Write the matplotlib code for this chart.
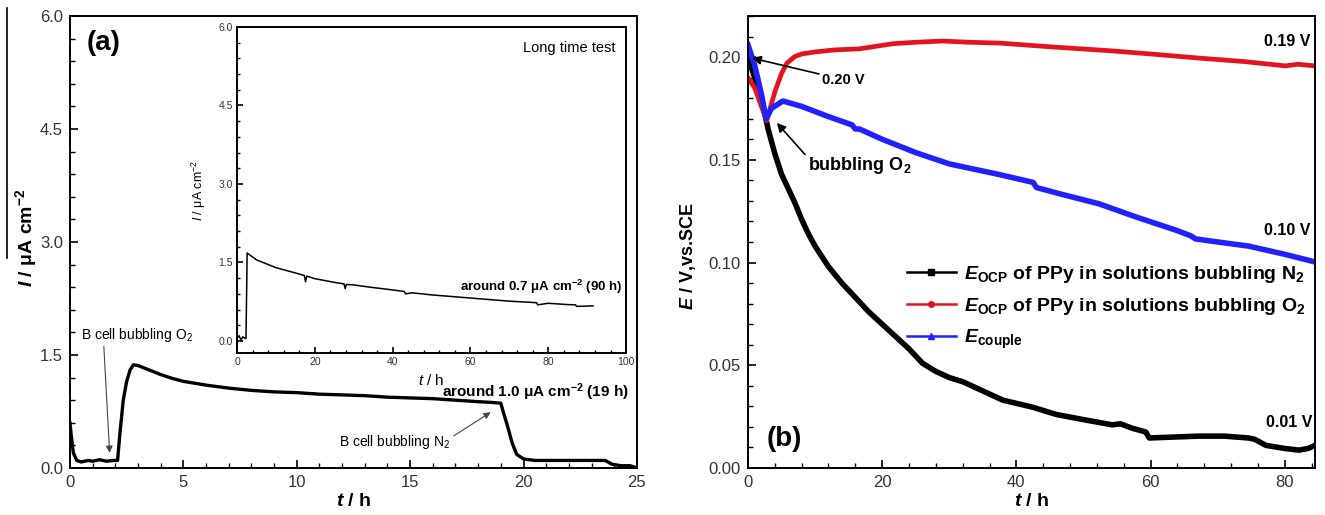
import numpy as np
import matplotlib.pyplot as plt
from matplotlib.lines import Line2D
from matplotlib.ticker import MultipleLocator

plt.rcParams['font.family'] = ['Liberation Sans', 'DejaVu Sans']
plt.rcParams['mathtext.fontset'] = 'custom'
plt.rcParams['mathtext.rm'] = 'Liberation Sans'
plt.rcParams['mathtext.it'] = 'Liberation Sans:italic'
plt.rcParams['mathtext.bf'] = 'Liberation Sans:bold'
plt.rcParams['mathtext.bfit'] = 'Liberation Sans:italic:bold'

# --- (a) current vs time, main curve ---
t_a = [0, 0.05, 0.15, 0.3, 0.5, 0.8, 1.0, 1.3, 1.6, 1.9, 2.1, 2.2, 2.35, 2.5, 2.65,
       2.8, 3.0, 3.5, 4.0, 4.5, 5.0, 6.0, 7.0, 8.0, 9.0, 10.0, 11.0, 12.0, 13.0, 14.0,
       15.0, 16.0, 17.0, 18.0, 18.6, 19.0, 19.1, 19.3, 19.5, 19.7, 20.0, 20.5, 21.0,
       22.0, 23.0, 23.6, 23.9, 24.3, 24.7, 25.0]
I_a = [0.6, 0.45, 0.2, 0.1, 0.08, 0.1, 0.09, 0.11, 0.09, 0.1, 0.1, 0.45, 0.9, 1.15, 1.3,
       1.37, 1.36, 1.3, 1.24, 1.19, 1.15, 1.1, 1.06, 1.03, 1.01, 1.0, 0.98, 0.97, 0.96, 0.94,
       0.93, 0.92, 0.9, 0.88, 0.87, 0.86, 0.75, 0.55, 0.33, 0.18, 0.12, 0.1, 0.1,
       0.1, 0.1, 0.1, 0.05, 0.03, 0.03, 0.0]

# --- (a) inset, long time test ---
t_in = [0, 0.5, 1.0, 1.5, 2.0, 2.3, 2.6, 5, 10, 15, 17.3, 17.6, 17.9, 20, 25, 27.5, 27.8,
        28.1, 30, 35, 40, 43, 43.3, 45, 50, 55, 60, 65, 70, 75, 77, 77.3, 80, 85, 87, 87.3, 91.5]
I_in = [0.05, 0.1, 0.02, 0.08, 0.05, 0.05, 1.68, 1.55, 1.40, 1.30, 1.25, 1.13, 1.24, 1.19, 1.12,
        1.09, 1.0, 1.08, 1.07, 1.02, 0.975, 0.945, 0.9, 0.92, 0.88, 0.85, 0.82, 0.79, 0.76, 0.74,
        0.73, 0.69, 0.72, 0.695, 0.69, 0.66, 0.67]

# --- (b) open circuit potentials ---
t_n2 = [0, 1, 2, 3, 4, 5, 6, 7, 8, 9, 10, 12, 14, 16, 18, 20, 22, 24, 26, 28, 30, 32, 34,
        36, 38, 42.4, 46, 50.4, 54.3, 55.5, 57.2, 59.3, 59.8, 63, 67.2, 71, 74.6, 75.5,
        77.2, 80, 82.1, 83.5, 84.5]
E_n2 = [0.200, 0.190, 0.180, 0.165, 0.153, 0.143, 0.136, 0.129, 0.121, 0.114, 0.108, 0.098,
        0.090, 0.083, 0.076, 0.070, 0.064, 0.058, 0.051, 0.047, 0.044, 0.042, 0.039, 0.036,
        0.033, 0.0296, 0.026, 0.0233, 0.021, 0.0215, 0.0194, 0.0175, 0.0146, 0.015, 0.0155,
        0.0155, 0.0146, 0.014, 0.011, 0.0095, 0.0087, 0.0095, 0.011]

t_o2 = [0, 1, 2, 2.8, 3.3, 4, 5, 5.8, 7, 8, 10, 13, 16.6, 21.6, 25, 29, 33, 37.5, 45, 54.3,
        60, 67.2, 74, 80.1, 82, 84.5]
E_o2 = [0.190, 0.185, 0.176, 0.169, 0.175, 0.183, 0.192, 0.197, 0.2003, 0.2015, 0.2025, 0.2035,
        0.204, 0.2065, 0.2072, 0.2078, 0.2072, 0.2068, 0.205, 0.203, 0.2015, 0.1995, 0.1978,
        0.1957, 0.1965, 0.1957]

t_cp = [0, 1, 2, 2.7, 3.5, 5.2, 8, 12, 15.5, 16, 16.6, 20, 25, 30, 37.2, 42.5, 43, 47, 52.3,
        58, 64, 66, 66.7, 70, 74.6, 80, 84.5]
E_cp = [0.206, 0.196, 0.182, 0.170, 0.175, 0.1786, 0.176, 0.171, 0.167, 0.165, 0.165, 0.160,
        0.1535, 0.148, 0.143, 0.139, 0.1365, 0.133, 0.1286, 0.122, 0.1155, 0.113, 0.1115,
        0.110, 0.108, 0.104, 0.1003]

tick_col = '#333333'

fig = plt.figure(figsize=(13.25, 5.15), dpi=100)
ax1 = fig.add_axes([0.0528, 0.0913, 0.4279, 0.8777])
axi = fig.add_axes([0.1789, 0.3146, 0.2936, 0.633])
ax2 = fig.add_axes([0.5645, 0.0913, 0.4279, 0.8777])

# stray frame line at the far left edge of the original figure
fig.add_artist(Line2D([7 / 1325, 7 / 1325], [1 - 8 / 515, 1 - 258 / 515], color='k', lw=1.2))


def style(ax, fs, major, minor):
    for s in ax.spines.values():
        s.set_linewidth(1.4)
    ax.tick_params(which='both', direction='in', colors='k', labelcolor=tick_col,
                   labelsize=fs, top=False, right=False)
    ax.tick_params(which='major', length=major, width=1.2, pad=5)
    ax.tick_params(which='minor', length=minor, width=1.0)


# --- panel (a) ---
ax1.plot(t_a, I_a, color='k', lw=2.4)
ax1.set_xlim(0, 25)
ax1.set_ylim(0, 6)
ax1.xaxis.set_major_locator(MultipleLocator(5))
ax1.xaxis.set_minor_locator(MultipleLocator(1))
ax1.yaxis.set_major_locator(MultipleLocator(1.5))
ax1.yaxis.set_minor_locator(MultipleLocator(0.3))
ax1.yaxis.set_major_formatter(plt.FormatStrFormatter('%.1f'))
style(ax1, 12, 6, 3.5)
ax1.set_xlabel('$\\mathbfit{t}$ / h', fontsize=14, fontweight='bold')
ax1.set_ylabel('$\\mathbfit{I}$ / \u03bcA cm$^{\\mathbf{-2}}$', fontsize=14, fontweight='bold')
ax1.xaxis.set_label_coords(0.5, -0.055)
ax1.yaxis.set_label_coords(-0.055, 0.51)
ax1.text(0.03, 0.94, '(a)', transform=ax1.transAxes, fontsize=20, fontweight='bold', va='center')

ax1.annotate('B cell bubbling O$_2$', xy=(1.75, 0.2), xytext=(0.5, 1.77), fontsize=10,
             va='center', ha='left',
             arrowprops=dict(arrowstyle='-|>', color='#444444', lw=0.8, shrinkA=0, shrinkB=0,
                             relpos=(0.2, 0.0)))
ax1.annotate('B cell bubbling N$_2$', xy=(18.55, 0.74), xytext=(11.85, 0.345), fontsize=10,
             va='center', ha='left',
             arrowprops=dict(arrowstyle='-|>', color='#444444', lw=0.8, shrinkA=1, shrinkB=0,
                             relpos=(1.0, 0.7)))
ax1.text(16.4, 1.01, 'around 1.0 \u03bcA cm$^{\\mathbf{-2}}$ (19 h)', fontsize=11,
         fontweight='bold', va='center', ha='left')

# --- inset ---
axi.plot(t_in, I_in, color='k', lw=1.1)
axi.set_xlim(0, 100)
axi.set_ylim(-0.23, 6)
axi.xaxis.set_major_locator(MultipleLocator(20))
axi.xaxis.set_minor_locator(MultipleLocator(4))
axi.yaxis.set_major_locator(MultipleLocator(1.5))
axi.yaxis.set_minor_locator(MultipleLocator(0.3))
axi.yaxis.set_major_formatter(plt.FormatStrFormatter('%.1f'))
style(axi, 7.5, 4, 2.5)
axi.tick_params(which='major', pad=3)
axi.set_xlabel('$\\mathit{t}$ / h', fontsize=11)
axi.set_ylabel('$\\mathit{I}$ / \u03bcA cm$^{-2}$', fontsize=9)
axi.xaxis.set_label_coords(0.5, -0.06)
axi.yaxis.set_label_coords(-0.075, 0.5)
axi.text(97.2, 5.6, 'Long time test', fontsize=10.5, ha='right', va='center')
axi.text(99.2, 1.03, 'around 0.7 \u03bcA cm$^{\\mathbf{-2}}$ (90 h)', fontsize=9.5,
         fontweight='bold', ha='right', va='center')

# --- panel (b) ---
ax2.plot(t_n2, E_n2, color='k', lw=4.0)
ax2.plot(t_o2, E_o2, color='#e3141e', lw=3.4)
ax2.plot(t_cp, E_cp, color='#2121ff', lw=4.0)
ax2.set_xlim(0, 84.5)
ax2.set_ylim(0, 0.22)
ax2.xaxis.set_major_locator(MultipleLocator(20))
ax2.xaxis.set_minor_locator(MultipleLocator(4))
ax2.yaxis.set_major_locator(MultipleLocator(0.05))
ax2.yaxis.set_minor_locator(MultipleLocator(0.01))
ax2.yaxis.set_major_formatter(plt.FormatStrFormatter('%.2f'))
style(ax2, 12, 6, 3.5)
ax2.set_xlabel('$\\mathbfit{t}$ / h', fontsize=14, fontweight='bold')
ax2.set_ylabel('$\\mathbfit{E}$ / V,vs.SCE', fontsize=13, fontweight='bold')
ax2.xaxis.set_label_coords(0.5, -0.055)
ax2.yaxis.set_label_coords(-0.088, 0.469)
ax2.text(0.033, 0.065, '(b)', transform=ax2.transAxes, fontsize=20, fontweight='bold',
         va='center')

arrow_b = dict(arrowstyle='-|>', color='k', lw=1.2, shrinkA=0, shrinkB=0, mutation_scale=13)
ax2.annotate('0.20 V', xy=(0.6, 0.1995), xytext=(11.0, 0.189), fontsize=10.5,
             fontweight='bold', va='center', ha='left', arrowprops=arrow_b)
ax2.annotate('bubbling O$_\\mathbf{2}$', xy=(4.3, 0.168), xytext=(8.9, 0.147), fontsize=13,
             fontweight='bold', va='center', ha='left',
             arrowprops=dict(arrow_b, relpos=(0.0, 0.9)))
ax2.text(83.8, 0.2078, '0.19 V', fontsize=11.5, fontweight='bold', ha='right', va='center')
ax2.text(83.8, 0.1155, '0.10 V', fontsize=11.5, fontweight='bold', ha='right', va='center')
ax2.text(84.1, 0.0223, '0.01 V', fontsize=11.5, fontweight='bold', ha='right', va='center')

handles = [Line2D([], [], color='k', lw=1.8, marker='s', ms=4),
           Line2D([], [], color='#e3141e', lw=1.8, marker='o', ms=4),
           Line2D([], [], color='#2121ff', lw=1.8, marker='^', ms=4)]
labels = ['$\\mathbfit{E}_\\mathbf{OCP}$ of PPy in solutions bubbling N$_\\mathbf{2}$',
          '$\\mathbfit{E}_\\mathbf{OCP}$ of PPy in solutions bubbling O$_\\mathbf{2}$',
          '$\\mathbfit{E}_\\mathbf{couple}$']
ax2.legend(handles, labels, loc='upper left', bbox_to_anchor=(0.267, 0.468), frameon=False,
           prop={'weight': 'bold', 'size': 14}, handlelength=2.5, handletextpad=0.4,
           labelspacing=0.55, borderaxespad=0)

fig.savefig('out.png', dpi=100)
